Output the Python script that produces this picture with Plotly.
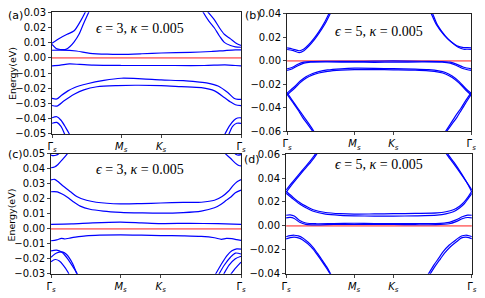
import plotly.graph_objects as go

W, H = 485, 298

# ---------------- data ----------------
TICK_K = [0.0, 1.0, 1.577, 2.732]
TICK_TEXT = ["Γ<sub><i>s</i></sub>", "<i>M</i><sub><i>s</i></sub>",
             "<i>K</i><sub><i>s</i></sub>", "Γ<sub><i>s</i></sub>"]
PANEL_LABELS = ["(a)", "(b)", "(c)", "(d)"]
PANEL_TITLES = ["<i>ϵ</i> = 3, <i>κ</i> = 0.005", "<i>ϵ</i> = 5, <i>κ</i> = 0.005",
                "<i>ϵ</i> = 3, <i>κ</i> = 0.005", "<i>ϵ</i> = 5, <i>κ</i> = 0.005"]
Y_RANGES = [(-0.05, 0.03), (-0.06, 0.04), (-0.03, 0.05), (-0.04, 0.06)]
Y_STEPS = [0.01, 0.02, 0.01, 0.02]
FERMI = 0.0

# panel (a): bands as (k, E[eV]) samples
BANDS_A = [
    [(0, 0.0050), (0.15, 0.0051), (0.35, 0.0045), (0.55, 0.0030), (0.8, 0.0024), (1.0, 0.0023),
     (1.3, 0.0027), (1.577, 0.0032), (2.0, 0.0036), (2.3, 0.0042), (2.5, 0.0048), (2.65, 0.0052), (2.732, 0.0053)],
    [(0, 0.0096), (0.07, 0.0118), (0.13, 0.0134), (0.22, 0.0155), (0.32, 0.0178), (0.41, 0.024),
     (0.48, 0.030), (0.52, 0.034)],
    [(0, 0.0088), (0.06, 0.0062), (0.12, 0.0055), (0.2, 0.0056), (0.26, 0.0075), (0.32, 0.0105),
     (0.39, 0.0155), (0.46, 0.023), (0.53, 0.030), (0.56, 0.034)],
    [(2.2, 0.034), (2.25, 0.0304), (2.345, 0.0251), (2.42, 0.0198), (2.49, 0.0155), (2.58, 0.0125),
     (2.65, 0.0100), (2.732, 0.0081)],
    [(2.14, 0.034), (2.18, 0.0304), (2.27, 0.024), (2.345, 0.0198), (2.42, 0.0144), (2.49, 0.0102),
     (2.58, 0.0081), (2.65, 0.0072), (2.732, 0.0070)],
    [(0, -0.0052), (0.12, -0.0048), (0.25, -0.0040), (0.4, -0.0043), (0.6, -0.0048), (1.0, -0.0050),
     (1.577, -0.0050), (2.2, -0.0050), (2.5, -0.0046), (2.65, -0.0050), (2.732, -0.0052)],
    [(0, -0.0266), (0.07, -0.0270), (0.13, -0.0249), (0.23, -0.0217), (0.32, -0.0196), (0.51, -0.0170),
     (0.75, -0.0148), (1.0, -0.0134), (1.3, -0.0138), (1.577, -0.0145), (1.9, -0.0150), (2.1, -0.0158),
     (2.25, -0.0166), (2.4, -0.0185), (2.54, -0.0228), (2.63, -0.0265), (2.69, -0.0273), (2.732, -0.0273)],
    [(0, -0.0313), (0.07, -0.0317), (0.18, -0.0280), (0.32, -0.0239), (0.46, -0.0210), (0.65, -0.0190),
     (0.94, -0.0182), (1.2, -0.0180), (1.577, -0.0182), (1.87, -0.0189), (2.16, -0.0196), (2.35, -0.0217),
     (2.49, -0.0260), (2.58, -0.0290), (2.65, -0.0308), (2.732, -0.0314)],
    [(0, -0.0394), (0.07, -0.0387), (0.13, -0.0410), (0.2, -0.0460), (0.25, -0.0500), (0.3, -0.0550)],
    [(0, -0.0430), (0.07, -0.0424), (0.13, -0.0450), (0.18, -0.0498), (0.23, -0.0550)],
    [(2.44, -0.055), (2.5, -0.050), (2.56, -0.045), (2.63, -0.041), (2.68, -0.0395), (2.732, -0.0394)],
    [(2.52, -0.055), (2.56, -0.0498), (2.61, -0.045), (2.67, -0.043), (2.732, -0.043)],
]

# panel (b)
BANDS_B = [
    [(0, 0.0109), (0.08, 0.0100), (0.18, 0.0085), (0.25, 0.0100), (0.32, 0.0136), (0.4, 0.019),
     (0.47, 0.0245), (0.55, 0.032), (0.62, 0.040), (0.66, 0.045)],
    [(0, 0.0096), (0.08, 0.0088), (0.18, 0.0070), (0.25, 0.0086), (0.32, 0.0122), (0.4, 0.0175),
     (0.47, 0.023), (0.56, 0.031), (0.64, 0.040), (0.68, 0.045)],
    [(2.1, 0.045), (2.14, 0.040), (2.21, 0.0313), (2.33, 0.0218), (2.43, 0.0163), (2.52, 0.0128),
     (2.62, 0.0112), (2.68, 0.0112), (2.732, 0.0109)],
    [(2.12, 0.045), (2.16, 0.040), (2.23, 0.0305), (2.35, 0.021), (2.45, 0.0152), (2.54, 0.0115),
     (2.62, 0.0098), (2.68, 0.0098), (2.732, 0.0096)],
    [(0, -0.0068), (0.08, -0.0055), (0.16, -0.0030), (0.25, -0.0012), (0.35, -0.0006), (0.6, -0.0004),
     (1.0, -0.0005), (1.3, -0.0003), (1.577, -0.0001), (2.0, -0.0004), (2.3, -0.0006), (2.42, -0.0012),
     (2.52, -0.0030), (2.62, -0.0055), (2.732, -0.0068)],
    [(0, -0.0082), (0.08, -0.0068), (0.16, -0.0042), (0.25, -0.0020), (0.35, -0.0012), (0.6, -0.0010),
     (1.0, -0.0012), (1.3, -0.0013), (1.577, -0.0012), (2.0, -0.0010), (2.3, -0.0012), (2.42, -0.0020),
     (2.52, -0.0042), (2.62, -0.0068), (2.732, -0.0082)],
    [(0, -0.0275), (0.07, -0.0240), (0.13, -0.0210), (0.2, -0.0170), (0.28, -0.0135), (0.38, -0.0108),
     (0.47, -0.0092), (0.6, -0.0078), (0.8, -0.0068), (1.0, -0.0063), (1.3, -0.0064), (1.577, -0.0067),
     (1.9, -0.0070), (2.1, -0.0075), (2.25, -0.0085), (2.35, -0.0100), (2.45, -0.0130), (2.55, -0.0175),
     (2.65, -0.0235), (2.732, -0.0275)],
    [(0, -0.0290), (0.07, -0.0255), (0.13, -0.0223), (0.2, -0.0183), (0.28, -0.0148), (0.38, -0.0120),
     (0.47, -0.0104), (0.6, -0.0090), (0.8, -0.0080), (1.0, -0.0075), (1.3, -0.0075), (1.577, -0.0077),
     (1.9, -0.0080), (2.1, -0.0086), (2.25, -0.0097), (2.35, -0.0112), (2.45, -0.0143), (2.55, -0.0188),
     (2.65, -0.0248), (2.732, -0.0290)],
    [(0, -0.0285), (0.08, -0.035), (0.16, -0.0415), (0.23, -0.048), (0.32, -0.055), (0.4, -0.0615), (0.45, -0.066)],
    [(0, -0.0270), (0.08, -0.0338), (0.16, -0.0403), (0.24, -0.0468), (0.33, -0.054), (0.41, -0.061), (0.46, -0.066)],
    [(2.3, -0.066), (2.35, -0.0615), (2.43, -0.055), (2.52, -0.048), (2.59, -0.0415), (2.66, -0.035), (2.732, -0.0285)],
    [(2.29, -0.066), (2.34, -0.061), (2.42, -0.054), (2.5, -0.0468), (2.58, -0.0403), (2.65, -0.0338), (2.732, -0.0270)],
]

# panel (c)
BANDS_C = [
    [(0, 0.0407), (0.05, 0.0412), (0.1, 0.0429), (0.17, 0.0465), (0.24, 0.0503), (0.28, 0.053)],
    [(0, 0.0492), (0.03, 0.0488), (0.07, 0.0490), (0.11, 0.0500), (0.15, 0.053)],
    [(2.45, 0.053), (2.5, 0.0503), (2.58, 0.047), (2.65, 0.0438), (2.7, 0.0422), (2.732, 0.0420)],
    [(2.6, 0.053), (2.64, 0.0503), (2.68, 0.0492), (2.732, 0.0495)],
    [(0, 0.0326), (0.05, 0.0330), (0.1, 0.0315), (0.16, 0.0290), (0.28, 0.0247), (0.37, 0.0215),
     (0.51, 0.0190), (0.65, 0.0177), (1.0, 0.0166), (1.3, 0.0168), (1.577, 0.0172), (1.9, 0.0176),
     (2.16, 0.0177), (2.35, 0.0190), (2.46, 0.0215), (2.55, 0.0250), (2.62, 0.0290), (2.68, 0.0315),
     (2.732, 0.0328)],
    [(0, 0.0247), (0.09, 0.0246), (0.16, 0.0232), (0.23, 0.0212), (0.32, 0.0180), (0.42, 0.0151),
     (0.56, 0.0130), (0.75, 0.0118), (1.0, 0.0110), (1.3, 0.0106), (1.577, 0.0104), (1.9, 0.0108),
     (2.16, 0.0118), (2.35, 0.0140), (2.44, 0.0162), (2.52, 0.0190), (2.58, 0.0210), (2.65, 0.0240),
     (2.732, 0.0258)],
    [(0, 0.0030), (0.3, 0.0033), (0.6, 0.0040), (1.0, 0.0045), (1.3, 0.0040), (1.577, 0.0035),
     (2.0, 0.0036), (2.4, 0.0034), (2.732, 0.0030)],
    [(0, -0.0080), (0.08, -0.0074), (0.15, -0.0064), (0.2, -0.0068), (0.26, -0.0063), (0.35, -0.0056),
     (0.5, -0.0047), (0.7, -0.0042), (1.0, -0.0040), (1.3, -0.0042), (1.577, -0.0045), (1.9, -0.0047),
     (2.16, -0.0051), (2.35, -0.0060), (2.45, -0.0070), (2.52, -0.0064), (2.6, -0.0066), (2.67, -0.0072),
     (2.732, -0.0077)],
    [(0, -0.0147), (0.08, -0.0142), (0.16, -0.0158), (0.24, -0.0200), (0.33, -0.0264), (0.43, -0.0340)],
    [(0, -0.0190), (0.08, -0.0162), (0.16, -0.0154), (0.22, -0.0170), (0.31, -0.0232), (0.4, -0.0340)],
    [(0, -0.0220), (0.06, -0.0205), (0.12, -0.0215), (0.18, -0.0245), (0.24, -0.0286), (0.29, -0.0340)],
    [(2.32, -0.034), (2.44, -0.0243), (2.53, -0.0179), (2.6, -0.0147), (2.67, -0.0134), (2.732, -0.0136)],
    [(2.37, -0.034), (2.49, -0.0243), (2.58, -0.0190), (2.65, -0.0162), (2.732, -0.0168)],
    [(2.44, -0.034), (2.56, -0.0243), (2.65, -0.0200), (2.732, -0.0183)],
    [(2.53, -0.034), (2.63, -0.0275), (2.732, -0.0222)],
]

# panel (d)
BANDS_D = [
    [(0, 0.0300), (0.1, 0.0370), (0.24, 0.0465), (0.35, 0.054), (0.43, 0.060), (0.47, 0.064)],
    [(0, 0.0280), (0.1, 0.0355), (0.24, 0.0452), (0.36, 0.053), (0.45, 0.060), (0.49, 0.064)],
    [(2.32, 0.064), (2.36, 0.060), (2.45, 0.053), (2.55, 0.0452), (2.65, 0.0370), (2.732, 0.0300)],
    [(2.34, 0.064), (2.38, 0.060), (2.47, 0.053), (2.57, 0.0445), (2.66, 0.0360), (2.732, 0.0282)],
    [(0, 0.0290), (0.05, 0.0265), (0.1, 0.0240), (0.2, 0.0195), (0.29, 0.0165), (0.4, 0.0135),
     (0.58, 0.0112), (0.8, 0.0102), (1.0, 0.0098), (1.3, 0.0100), (1.577, 0.0102), (1.9, 0.0104),
     (2.22, 0.0108), (2.35, 0.0118), (2.46, 0.0135), (2.55, 0.0165), (2.62, 0.0200), (2.68, 0.0245),
     (2.732, 0.0290)],
    [(0, 0.0272), (0.05, 0.0250), (0.1, 0.0226), (0.2, 0.0182), (0.29, 0.0152), (0.4, 0.0122),
     (0.58, 0.0098), (0.8, 0.0088), (1.0, 0.0084), (1.3, 0.0082), (1.577, 0.0082), (1.9, 0.0084),
     (2.22, 0.0090), (2.35, 0.0100), (2.46, 0.0118), (2.55, 0.0150), (2.62, 0.0185), (2.68, 0.0230),
     (2.732, 0.0272)],
    [(0, 0.0089), (0.06, 0.0092), (0.12, 0.0082), (0.2, 0.0045), (0.29, 0.0024), (0.45, 0.0018),
     (0.7, 0.0020), (1.0, 0.0022), (1.3, 0.0020), (1.577, 0.0020), (1.9, 0.0020), (2.2, 0.0020),
     (2.4, 0.0030), (2.5, 0.0050), (2.6, 0.0078), (2.67, 0.0090), (2.732, 0.0089)],
    [(0, 0.0067), (0.06, 0.0071), (0.12, 0.0062), (0.2, 0.0030), (0.29, 0.0012), (0.45, 0.0008),
     (0.7, 0.0012), (1.0, 0.0013), (1.3, 0.0012), (1.577, 0.0012), (1.9, 0.0010), (2.2, 0.0010),
     (2.4, 0.0018), (2.5, 0.0036), (2.6, 0.0062), (2.67, 0.0070), (2.732, 0.0067)],
    [(0, -0.0091), (0.06, -0.0082), (0.12, -0.0078), (0.18, -0.0084), (0.24, -0.0099), (0.32, -0.0135),
     (0.39, -0.0175), (0.46, -0.0228), (0.53, -0.0285), (0.6, -0.0345), (0.65, -0.0395), (0.69, -0.044)],
    [(0, -0.0108), (0.06, -0.0098), (0.12, -0.0094), (0.18, -0.0100), (0.24, -0.0115), (0.32, -0.0150),
     (0.39, -0.0190), (0.46, -0.0242), (0.53, -0.0298), (0.6, -0.0358), (0.65, -0.0405), (0.68, -0.044)],
    [(2.05, -0.044), (2.1, -0.0395), (2.17, -0.033), (2.25, -0.0265), (2.31, -0.0215), (2.4, -0.0160),
     (2.5, -0.0115), (2.58, -0.0084), (2.64, -0.0078), (2.69, -0.0082), (2.732, -0.0091)],
    [(2.07, -0.044), (2.12, -0.0400), (2.19, -0.0338), (2.27, -0.0275), (2.33, -0.0228), (2.42, -0.0172),
     (2.51, -0.0130), (2.58, -0.0100), (2.64, -0.0094), (2.69, -0.0098), (2.732, -0.0108)],
]

ALL_BANDS = [BANDS_A, BANDS_B, BANDS_C, BANDS_D]

# ---------------- layout (pixel boxes of the four plot areas) ----------------
BOXES = [  # x0, x1, y0(top), y1(bottom)
    (48, 241, 6.5, 133.3),
    (288, 476, 8.0, 130.7),
    (47, 241, 154.0, 279.0),
    (287, 476.7, 154.3, 279.0),
]
LABEL_POS = [(1, 10), (243, 10), (1, 155), (242, 160)]
TITLE_POS = [(138, 23), (382, 27), (138, 170), (382, 165)]

fig = go.Figure()
layout = dict(width=W, height=H, margin=dict(l=0, r=0, t=0, b=0),
              paper_bgcolor="white", plot_bgcolor="white", showlegend=False,
              font=dict(family="DejaVu Sans", size=10, color="black"))
annotations = []

for i, bands in enumerate(ALL_BANDS):
    x0, x1, yt, yb = BOXES[i]
    sfx = "" if i == 0 else str(i + 1)
    xa, ya = "x" + sfx, "y" + sfx
    lo, hi = Y_RANGES[i]
    step = Y_STEPS[i]
    n = int(round((hi - lo) / step))
    tv = [round(lo + j * step, 4) for j in range(n + 1)]
    layout["xaxis" + sfx] = dict(domain=[x0 / W, x1 / W], range=[0, 2.732], anchor=ya,
                                 tickvals=TICK_K, ticktext=TICK_TEXT, ticks="outside", ticklen=3,
                                 showline=True, mirror=True, linecolor="#222", linewidth=1,
                                 showgrid=False, zeroline=False, tickfont=dict(size=10))
    layout["yaxis" + sfx] = dict(domain=[1 - yb / H, 1 - yt / H], range=[lo, hi], anchor=xa,
                                 tickvals=tv, tickformat=".2f", ticks="outside", ticklen=3,
                                 showline=True, mirror=True, linecolor="#222", linewidth=1,
                                 showgrid=False, zeroline=False, tickfont=dict(size=10))
    fig.add_trace(go.Scatter(x=[0, 2.732], y=[FERMI, FERMI], mode="lines", xaxis=xa, yaxis=ya,
                             line=dict(color="rgba(255,80,80,0.75)", width=1.8), hoverinfo="skip"))
    for band in bands:
        fig.add_trace(go.Scatter(x=[p[0] for p in band], y=[p[1] for p in band], mode="lines",
                                 xaxis=xa, yaxis=ya, cliponaxis=True,
                                 line=dict(color="#0000ff", width=1.2, shape="spline", smoothing=0.8),
                                 hoverinfo="skip"))
    lx, ly = LABEL_POS[i]
    annotations.append(dict(text=PANEL_LABELS[i], x=lx / W, y=1 - ly / H, xref="paper", yref="paper",
                            xanchor="left", yanchor="middle", showarrow=False,
                            font=dict(family="DejaVu Sans", size=11, color="black")))
    tx, ty = TITLE_POS[i]
    annotations.append(dict(text=PANEL_TITLES[i], x=tx / W, y=1 - ty / H, xref="paper", yref="paper",
                            xanchor="center", yanchor="middle", showarrow=False,
                            font=dict(family="Liberation Serif", size=14, color="black")))

for yc in (70, 217.5):
    annotations.append(dict(text="Energy(eV)", x=7 / W, y=1 - yc / H, xref="paper", yref="paper",
                            xanchor="center", yanchor="middle", textangle=-90, showarrow=False,
                            font=dict(family="DejaVu Sans", size=9.5, color="black")))

layout["annotations"] = annotations
fig.update_layout(**layout)
fig.write_html("out.html", config={"displayModeBar": False},
               post_script="document.body.style.margin='0px';document.body.style.overflow='hidden';")
